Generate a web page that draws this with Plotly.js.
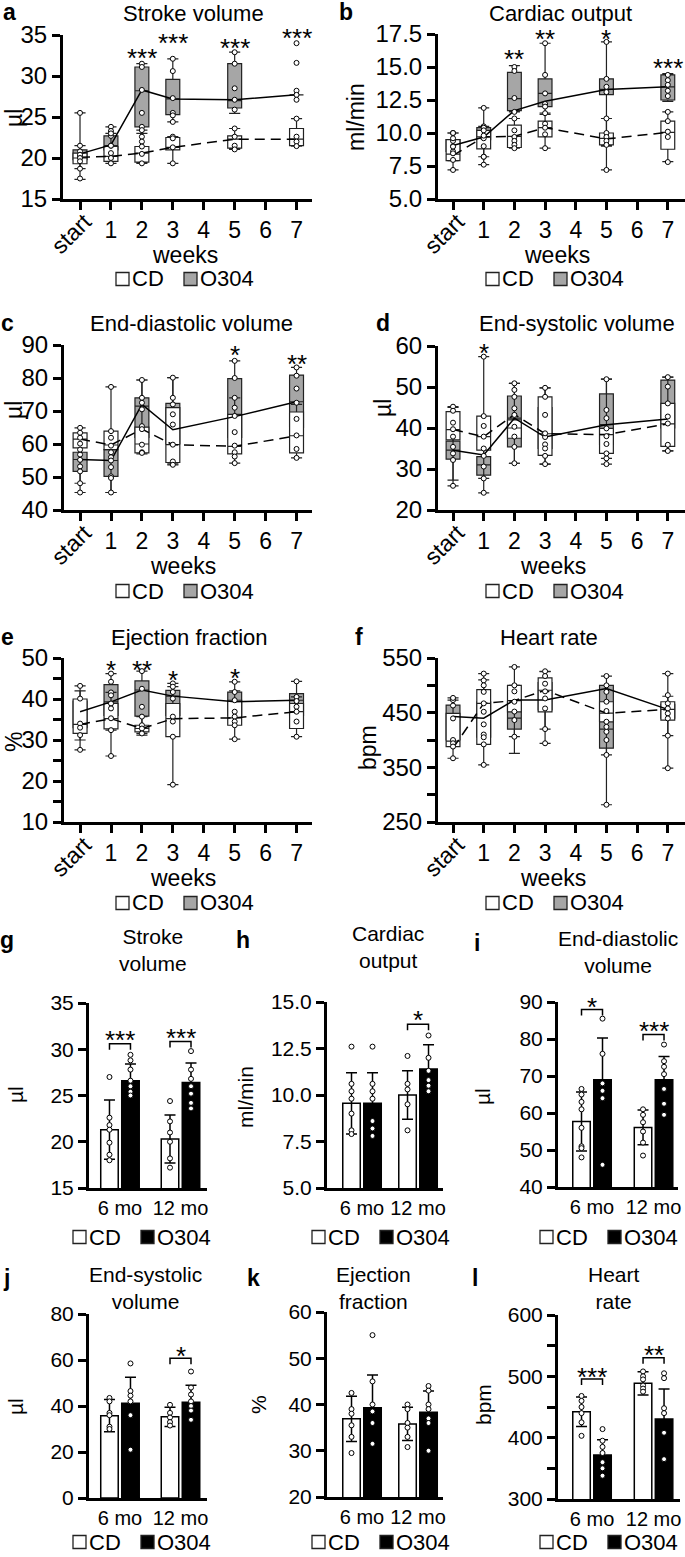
<!DOCTYPE html>
<html><head><meta charset="utf-8">
<script src="https://cdn.plot.ly/plotly-3.0.1.min.js"></script>
<style>html,body{margin:0;padding:0;background:#fff}#chart{width:685px;height:1557px}</style>
</head><body><div id="chart"></div>
<script>
// ---------- categories / labels ----------
const weeks = [0, 1, 2, 3, 5, 7];
const weekTicks = [0, 1, 2, 3, 4, 5, 6, 7];
const weekLabels = ['start', '1', '2', '3', '4', '5', '6', '7'];
const groupNames = ['CD', 'O304'];
const ages = ['6 mo', '12 mo'];
const ageTicks = [0, 1];
const letters = ['a','b','c','d','e','f','g','h','i','j','k','l'];
const topTitles = ['Stroke volume', 'Cardiac output', 'End-diastolic volume', 'End-systolic volume', 'Ejection fraction', 'Heart rate'];
const units = ['µl', 'ml/min', 'µl', 'µl', '%', 'bpm'];
const bottomTitles = [['Stroke', 'volume'], ['Cardiac', 'output'], ['End-diastolic', 'volume'], ['End-systolic', 'volume'], ['Ejection', 'fraction'], ['Heart', 'rate']];
const xTitle = 'weeks';

// ---------- a: stroke volume (rows: lower whisker, Q1, median, Q3, upper whisker) ----------
const sv_cd_box = [[17.4, 19.35, 19.35, 19.35, 21.05, 21.45], [19.3, 19.6, 19.5, 21.0, 21.2, 21.5], [20.0, 20.2, 20.6, 21.3, 22.3, 22.3], [20.6, 21.4, 21.4, 22.5, 22.7, 23.6], [25.5, 23.0, 23.0, 22.6, 23.6, 24.8]];
const sv_o_box = [[18.7, 19.8, 23.4, 24.4, 25.45, 26.9], [19.8, 21.0, 23.8, 25.3, 26.1, 27.8], [20.5, 21.5, 28.2, 27.2, 27.0, 27.7], [21.0, 22.7, 31.1, 29.6, 31.5, 32.2], [21.5, 23.8, 31.5, 32.1, 32.9, 34.0]];
const sv_cd_mean = [20.1, 20.2, 20.6, 21.3, 22.3, 22.3];
const sv_o_mean = [20.5, 21.6, 28.3, 27.2, 27.1, 27.7];
const sv_cd_pts = [[25.5, 20.4, 20.0, 19.6, 17.5], [23.0, 21.5, 20.6, 20.0, 19.35], [22.6, 22.0, 21.4, 20.5, 19.35], [22.6, 22.4, 21.3, 19.35], [23.6, 22.6, 21.5, 21.05], [24.8, 22.6, 22.0, 21.45]];
const sv_o_pts = [[21.5, 20.8, 20.2, 18.7], [23.8, 23.3, 22.7, 21.5], [31.5, 31.1, 28.3, 25.5, 23.8, 23.4], [32.1, 30.6, 27.3, 25.5, 25.2, 24.4], [32.9, 31.5, 28.5, 27.1, 25.9], [34.0, 31.6, 28.2, 27.7, 27.1]];
const sv_sig = ['', '', '***', '***', '***', '***'];
const sv_sigY = [0, 0, 32.9, 34.8, 34.2, 35.4];

// ---------- b: cardiac output ----------
const co_cd_box = [[7.2, 7.6, 8.85, 8.85, 9.0, 7.83], [7.9, 8.8, 8.9, 9.7, 9.1, 8.77], [8.4, 9.7, 9.75, 10.4, 9.6, 10.05], [9.5, 10.2, 10.6, 10.9, 10.0, 10.9], [10.0, 11.9, 11.1, 11.5, 11.1, 11.6]];
const co_o_box = [[7.9, 8.2, 11.6, 11.4, 7.2, 12.4], [8.6, 9.5, 11.7, 12.0, 12.9, 12.5], [9.05, 9.7, 12.6, 13.0, 13.3, 13.5], [9.5, 10.4, 14.6, 14.1, 14.1, 14.4], [10.0, 10.5, 15.1, 16.8, 16.9, 14.5]];
const co_cd_mean = [8.3, 9.7, 9.75, 10.4, 9.55, 10.05];
const co_o_mean = [9.05, 9.7, 11.7, 12.4, 13.3, 13.5];
const co_cd_pts = [[10.0, 9.6, 8.97, 8.46, 7.96, 7.2], [11.9, 10.2, 9.8, 9.0, 8.2, 7.6], [11.1, 10.2, 9.7, 9.4, 9.1, 8.85], [11.5, 10.7, 10.4, 9.9, 8.85], [11.1, 10.0, 9.7, 9.4, 9.1], [11.6, 10.9, 10.1, 9.7, 7.8]];
const co_o_pts = [[10.0, 9.4, 9.0, 8.6], [10.5, 10.4, 9.6, 8.2], [15.0, 14.7, 12.65, 11.6], [16.8, 14.4, 13.0, 12.2, 12.0], [16.9, 14.1, 13.5, 13.1, 7.2], [14.4, 14.0, 13.65, 13.2, 12.8]];
const co_sig = ['', '', '**', '**', '*', '***'];
const co_sigY = [0, 0, 16.05, 17.6, 17.6, 15.4];

// ---------- c: end-diastolic volume ----------
const edv_cd_box = [[48.1, 45.3, 57.3, 53.7, 54.2, 55.8], [58.8, 58.3, 57.3, 54.4, 57.0, 57.3], [61.5, 59.7, 60.0, 59.8, 59.3, 62.5], [63.4, 63.9, 65.1, 71.0, 69.0, 69.7], [64.9, 77.3, 79.4, 80.1, 74.0, 72.0]];
const edv_o_box = [[45.3, 45.3, 57.0, 54.0, 62.0, 70.0], [51.7, 50.2, 62.0, 60.0, 62.0, 65.0], [55.3, 55.0, 71.5, 64.3, 68.3, 72.8], [57.5, 58.3, 74.0, 72.3, 79.8, 80.9], [60.0, 63.0, 79.4, 80.1, 85.2, 83.2]];
const edv_cd_mean = [61.5, 59.7, 64.5, 59.8, 59.3, 62.5];
const edv_o_mean = [55.3, 55.0, 72.0, 64.3, 68.3, 72.8];
const edv_cd_pts = [[64.9, 63.4, 61.9, 60.1, 58.3, 48.1], [77.3, 63.9, 61.9, 59.5, 57.5], [65.4, 64.5, 59.8, 57.5, 57.3], [69.0, 65.9, 59.8, 54.7, 53.7], [68.5, 63.6, 59.5, 57.5, 56.2, 54.2], [67.6, 62.6, 58.5, 55.8]];
const edv_o_pts = [[56.8, 55.2, 53.2, 51.7, 45.3], [56.0, 55.0, 53.0, 50.2, 49.7, 45.3], [79.4, 74.0, 72.5, 70.5], [80.1, 74.0, 72.0], [85.2, 80.0, 74.0, 71.0], [83.2, 80.7, 76.8, 72.5]];
const edv_sig = ['', '', '', '', '*', '**'];
const edv_sigY = [0, 0, 0, 0, 88.8, 86.2];

// ---------- d: end-systolic volume ----------
const esv_cd_box = [[27.3, 27.7, 31.4, 31.2, 31.2, 34.4], [37.1, 34.6, 37.5, 33.3, 33.8, 35.5], [39.6, 37.9, 40.0, 38.6, 38.4, 41.0], [44.0, 42.9, 42.0, 47.6, 39.9, 46.0], [45.2, 57.4, 50.9, 49.8, 51.9, 52.4]];
const esv_o_box = [[25.9, 24.2, 31.4, 31.2, 32.6, 34.4], [32.4, 28.5, 35.4, 35.0, 36.0, 40.0], [34.6, 31.0, 42.4, 37.8, 40.8, 42.2], [36.8, 33.0, 47.8, 45.0, 48.3, 51.7], [45.0, 40.5, 50.9, 49.8, 51.9, 52.4]];
const esv_cd_mean = [39.6, 37.9, 43.3, 38.6, 38.4, 41.0];
const esv_o_mean = [34.6, 33.4, 42.4, 37.8, 40.8, 42.2];
const esv_cd_pts = [[45.2, 44.2, 41.3, 39.7, 37.9], [57.4, 42.9, 40.5, 37.9, 35.0], [44.8, 43.2, 40.3, 37.9], [49.8, 47.6, 43.2, 38.7, 35.0, 33.2, 31.2], [42.4, 39.9, 38.0, 36.1, 33.8, 31.2], [42.8, 41.1, 35.9, 34.4]];
const esv_o_pts = [[35.4, 33.8, 32.2, 25.9], [33.2, 30.6, 27.7, 24.2], [50.9, 49.3, 47.6, 35.4, 31.4], [37.8, 36.0], [51.9, 44.4, 32.6], [52.4, 50.1, 46.0]];
const esv_sig = ['', '*', '', '', '', ''];
const esv_sigY = [0, 59.8, 0, 0, 0, 0];

// ---------- e: ejection fraction ----------
const ef_cd_box = [[27.6, 26.1, 31.2, 19.1, 30.2, 30.8], [31.6, 32.7, 32.0, 30.8, 33.6, 32.8], [33.8, 35.2, 32.8, 35.2, 35.4, 36.9], [40.0, 38.9, 33.6, 38.9, 39.7, 38.9], [43.2, 41.6, 35.7, 43.0, 42.0, 40.5]];
const ef_o_box = [[30.0, 32.4, 31.6, 34.5, 34.0, 34.5], [33.0, 36.0, 35.8, 36.0, 36.0, 36.0], [37.0, 39.3, 42.2, 40.7, 39.3, 39.7], [39.5, 43.5, 44.4, 42.1, 41.7, 41.3], [42.0, 46.2, 46.8, 43.8, 44.2, 44.3]];
const ef_cd_mean = [33.8, 35.2, 32.8, 35.2, 35.4, 36.9];
const ef_o_mean = [36.9, 39.3, 42.2, 40.7, 39.3, 39.7];
const ef_cd_pts = [[43.2, 40.1, 34.0, 33.0, 31.2, 27.6], [38.9, 37.7, 35.3, 32.4, 26.1], [33.6, 32.8, 31.6], [35.7, 34.5, 30.8, 19.1], [39.7, 36.9, 35.7, 34.5, 33.6, 30.2], [38.1, 36.9, 34.5, 30.8]];
const ef_o_pts = [[], [46.2, 44.2, 41.6, 40.9], [46.8, 42.5, 38.1, 35.7], [43.8, 43.0, 41.7, 40.1], [44.2, 41.7], [44.3, 40.5, 39.5]];
const ef_sig = ['', '*', '**', '*', '*', ''];
const ef_sigY = [0, 48.6, 48.6, 46.0, 46.6, 0];

// ---------- f: heart rate ----------
const hr_cd_box = [[366.6, 354.5, 375.7, 394, 372.7, 348.4], [388, 392, 451.6, 451.6, 433, 436.5], [398, 467, 472, 491, 449, 456], [448.6, 492, 500, 513.6, 470, 470], [477, 521.5, 533.6, 525.7, 517, 521.5]];
const hr_o_box = [[394, 400, 406, 420, 281.6, 408], [400, 405, 420, 455, 385, 440], [440, 440, 440, 473, 420, 456], [463.8, 470, 470, 505, 500, 465], [473, 510, 500, 525, 500, 480]];
const hr_cd_mean = [385, 467, 472, 491, 449, 456];
const hr_o_mean = [443, 440, 473, 473, 494, 456];
const hr_cd_pts = [[477, 439.5, 400, 394, 388, 366.6], [521.5, 509, 500, 488, 467, 451.6, 428.6, 392, 354.5], [533.6, 500, 489, 470, 452], [525.7, 517, 503, 489, 476, 457.7, 394], [517, 488, 470, 453, 433.4, 424, 372.7], [521.5, 482, 467, 457.7, 448.6, 439.5, 348.4]];
const hr_o_pts = [[473, 463], [410, 405], [436.5, 406], [420], [500, 415, 400, 281.6], [408]];
const hr_sig = ['', '', '', '', '', ''];
const hr_sigY = [0, 0, 0, 0, 0, 0];

// ---------- g-l: 6 and 12 months (mean, SD, individual animals) ----------
const g_cd_mean = [21.3, 20.3], g_cd_sd = [3.2, 2.6], g_o_mean = [26.6, 26.4], g_o_sd = [1.8, 2.1];
const g_cd_pts = [[27.0, 22.6, 21.8, 21.3, 19.9, 18.6, 18.0], [24.4, 22.2, 21.0, 20.0, 18.2, 17.2]];
const g_o_pts = [[29.4, 28.8, 27.8, 26.6, 26.0, 25.4, 25.0], [29.8, 27.8, 26.8, 26.0, 25.2, 24.2, 23.6]];
const g_sig = ['***', '***'], g_brY = [30.6, 30.85], g_sigY = [31.6, 31.9];

const h_cd_mean = [9.55, 10.0], h_cd_sd = [1.65, 1.3], h_o_mean = [9.55, 11.4], h_o_sd = [1.65, 1.3];
const h_cd_pts = [[12.6, 10.6, 10.2, 9.8, 9.0, 8.1, 7.9], [12.1, 10.6, 10.3, 9.5, 8.1]];
const h_o_pts = [[12.6, 10.6, 10.2, 9.8, 8.6, 8.2, 7.8], [13.2, 12.0, 11.3, 10.8, 10.5, 10.2]];
const h_sig = ['', '*'], h_brY = [0, 13.8], h_sigY = [0, 14.35];

const i_cd_mean = [57.7, 56.1], i_cd_sd = [8.0, 4.7], i_o_mean = [69.0, 69.0], i_o_sd = [11.3, 6.3];
const i_cd_pts = [[66.5, 65.0, 63.0, 61.0, 56.0, 51.0, 50.5, 48.0], [61.0, 59.5, 57.5, 55.0, 52.0, 48.5]];
const i_o_pts = [[85.5, 76.0, 68.0, 66.0, 64.0, 46.0], [78.5, 74.0, 72.5, 70.5, 66.5, 62.5, 59.5]];
const i_sig = ['*', '***'], i_brY = [88.0, 81.2], i_sigY = [90.4, 83.7];

const j_cd_mean = [35.8, 35.3], j_cd_sd = [7.0, 4.2], j_o_mean = [41.2, 41.6], j_o_sd = [11.3, 7.4];
const j_cd_pts = [[43.5, 42.0, 37.0, 36.0, 31.0, 30.0], [40.5, 37.0, 35.0, 33.0, 31.5]];
const j_o_pts = [[58.5, 46.5, 44.5, 42.0, 36.0, 21.0], [55.0, 48.0, 45.0, 42.0, 40.0, 38.0, 34.0]];
const j_sig = ['', '*'], j_brY = [0, 60.8], j_sigY = [0, 64.4];

const k_cd_mean = [36.9, 35.8], k_cd_sd = [4.9, 3.6], k_o_mean = [39.3, 38.3], k_o_sd = [7.1, 4.6];
const k_cd_pts = [[42.5, 39.0, 38.0, 35.5, 33.0, 29.5], [40.0, 39.0, 36.0, 35.0, 33.0, 30.8]];
const k_o_pts = [[55.0, 45.0, 40.0, 38.5, 36.0, 31.5], [44.0, 43.0, 40.0, 39.0, 37.0, 36.0, 30.0]];
const k_sig = ['', ''], k_brY = [0, 0], k_sigY = [0, 0];

const l_cd_mean = [442.4, 488.6], l_cd_sd = [24, 19], l_o_mean = [371.7, 430.4], l_o_sd = [25, 49];
const l_cd_pts = [[468, 460, 450, 440, 425, 403], [508, 500, 495, 485, 480, 475]];
const l_o_pts = [[414, 395, 385, 375, 360, 350, 338], [505, 497, 448, 440, 408, 365]];
const l_sig = ['***', '**'], l_brY = [495.6, 530.4], l_sigY = [508.7, 544];

// ---------- layout geometry (pixels) ----------
const W = 685, H = 1557;
const X = px => px / W;
const Y = px => 1 - px / H;
const FONT = '"Liberation Sans", Arial, Helvetica, sans-serif';
const GRAY = '#a6a6a6';

const topGeom = [
  {x0: 63, x1: 312, y0: 35, y1: 199, yr: [15, 35], dt: 5, xr: [-0.55, 7.5]},
  {x0: 438, x1: 685, y0: 34, y1: 199, yr: [5, 17.5], dt: 2.5, fmt: '.1f', xr: [-0.49, 7.56]},
  {x0: 64, x1: 312, y0: 345, y1: 510, yr: [40, 90], dt: 10, xr: [-0.52, 7.5]},
  {x0: 438, x1: 685, y0: 346, y1: 510, yr: [20, 60], dt: 10, xr: [-0.49, 7.56]},
  {x0: 64, x1: 312, y0: 658, y1: 822, yr: [10, 50], dt: 10, minor: 5, xr: [-0.52, 7.5]},
  {x0: 438, x1: 685, y0: 658, y1: 822, yr: [250, 550], dt: 100, minor: 50, xr: [-0.49, 7.56]}
];
const botGeom = [
  {x0: 89, x1: 207, y0: 1003, y1: 1188, yr: [15, 35], dt: 5, xr: [-0.512, 1.438]},
  {x0: 327, x1: 443, y0: 1002, y1: 1188, yr: [5, 15], dt: 2.5, fmt: '.1f', xr: [-0.625, 1.446]},
  {x0: 558, x1: 678, y0: 1002, y1: 1187, yr: [40, 90], dt: 10, xr: [-0.553, 1.398]},
  {x0: 89, x1: 207, y0: 1314, y1: 1498, yr: [0, 80], dt: 20, xr: [-0.512, 1.438]},
  {x0: 327, x1: 443, y0: 1312, y1: 1497, yr: [20, 60], dt: 10, xr: [-0.625, 1.446]},
  {x0: 558, x1: 680, y0: 1315, y1: 1499, yr: [300, 600], dt: 100, minor: 50, xr: [-0.553, 1.43]}
];
const topLetterPos = [[9, 12], [346, 12], [7, 323], [383, 323], [7, 637], [359, 637]];
const topTitlePos = [[193, 13], [560, 13], [191, 323], [577, 323], [189, 637], [549, 637]];
const topUnitPos = [[14, 118], [356, 117], [14, 410], [383, 408], [14, 742], [368, 748]];
const weeksPos = [[185, 255], [557, 255], [183, 566], [553, 566], [183, 878], [553, 878]];
const legendPos = [[187, 279], [557, 279], [187, 591], [557, 591], [187, 903], [557, 903], [144, 1237], [383, 1237], [611, 1237], [144, 1542], [383, 1542], [611, 1542]];
const botLetterPos = [[7, 940], [243, 940], [477, 943], [6, 1278], [253, 1278], [475, 1278]];
const botTitlePos = [[153, 950], [388, 947], [618, 952], [145, 1288], [373, 1288], [614, 1288]];
const botUnitPos = [[15, 1095], [245, 1097], [482, 1097], [15, 1407], [258, 1405], [483, 1405]];

const boxPanels = [
  [sv_cd_box, sv_o_box, sv_cd_mean, sv_o_mean, sv_cd_pts, sv_o_pts, sv_sig, sv_sigY],
  [co_cd_box, co_o_box, co_cd_mean, co_o_mean, co_cd_pts, co_o_pts, co_sig, co_sigY],
  [edv_cd_box, edv_o_box, edv_cd_mean, edv_o_mean, edv_cd_pts, edv_o_pts, edv_sig, edv_sigY],
  [esv_cd_box, esv_o_box, esv_cd_mean, esv_o_mean, esv_cd_pts, esv_o_pts, esv_sig, esv_sigY],
  [ef_cd_box, ef_o_box, ef_cd_mean, ef_o_mean, ef_cd_pts, ef_o_pts, ef_sig, ef_sigY],
  [hr_cd_box, hr_o_box, hr_cd_mean, hr_o_mean, hr_cd_pts, hr_o_pts, hr_sig, hr_sigY]
];
const barPanels = [
  [g_cd_mean, g_cd_sd, g_o_mean, g_o_sd, g_cd_pts, g_o_pts, g_sig, g_brY, g_sigY],
  [h_cd_mean, h_cd_sd, h_o_mean, h_o_sd, h_cd_pts, h_o_pts, h_sig, h_brY, h_sigY],
  [i_cd_mean, i_cd_sd, i_o_mean, i_o_sd, i_cd_pts, i_o_pts, i_sig, i_brY, i_sigY],
  [j_cd_mean, j_cd_sd, j_o_mean, j_o_sd, j_cd_pts, j_o_pts, j_sig, j_brY, j_sigY],
  [k_cd_mean, k_cd_sd, k_o_mean, k_o_sd, k_cd_pts, k_o_pts, k_sig, k_brY, k_sigY],
  [l_cd_mean, l_cd_sd, l_o_mean, l_o_sd, l_cd_pts, l_o_pts, l_sig, l_brY, l_sigY]
];

const traces = [];
const annotations = [];
const shapes = [];
const layout = {
  width: W, height: H, margin: {l: 0, r: 0, t: 0, b: 0},
  paper_bgcolor: 'white', plot_bgcolor: 'white',
  font: {family: FONT, color: 'black', size: 22},
  boxmode: 'overlay', barmode: 'overlay', showlegend: false,
  annotations: annotations, shapes: shapes
};

function ids(n) { return n === 1 ? ['x', 'y'] : ['x' + n, 'y' + n]; }
function axKey(id) { return id.replace('x', 'xaxis').replace('y', 'yaxis'); }
function ann(o) { annotations.push(Object.assign({showarrow: false, xanchor: 'center', yanchor: 'middle', font: {family: FONT, size: 22, color: 'black'}}, o)); }
function fnt(s) { return {family: FONT, size: s, color: 'black'}; }
function baseAxis() {
  return {showline: true, linewidth: 3, linecolor: 'black', ticks: 'outside', ticklen: 8, tickwidth: 3,
          tickcolor: 'black', showgrid: false, zeroline: false, fixedrange: true};
}
function yAxis(g, xid, fs) {
  const a = Object.assign(baseAxis(), {domain: [Y(g.y1), Y(g.y0)], range: g.yr, tick0: g.yr[0], dtick: g.dt,
    anchor: xid, tickfont: fnt(fs)});
  if (g.fmt) a.tickformat = g.fmt;
  if (g.minor) a.minor = {dtick: g.minor, tick0: g.yr[0], ticks: 'outside', ticklen: 8, tickwidth: 3, tickcolor: 'black', showgrid: false};
  return a;
}
// value -> paper y (so labels above the axis range still show)
function vy(g, v) { return Y(g.y1 - (v - g.yr[0]) / (g.yr[1] - g.yr[0]) * (g.y1 - g.y0)); }
// legend: CD (white square) and O304 (filled square), drawn as keys in paper space
function legendKey(pos, oFill) {
  const [cx, cy] = pos;
  [[-71, 'white', groupNames[0]], [-3, oFill, groupNames[1]]].forEach(([dx, fill, label]) => {
    shapes.push({type: 'rect', xref: 'paper', yref: 'paper', x0: X(cx + dx), x1: X(cx + dx + 13),
      y0: Y(cy + 6.5), y1: Y(cy - 6.5), fillcolor: fill, line: {color: '#222', width: 1.3}});
    ann({xref: 'paper', yref: 'paper', x: X(cx + dx + 14), y: Y(cy), xanchor: 'left', text: label, font: fnt(22)});
  });
}
function flatten(xs, pts) {
  const x = [], y = [];
  pts.forEach((arr, i) => arr.forEach(v => { x.push(xs[i]); y.push(v); }));
  return {x, y};
}
const ptMarker = {size: 5, color: 'white', line: {color: 'black', width: 1}};

// ---------- a-f: box plots over weeks ----------
boxPanels.forEach((p, k) => {
  const [cdBox, oBox, cdMean, oMean, cdPts, oPts, sig, sigY] = p;
  const n = k + 1, g = topGeom[k];
  const [xid, yid] = ids(n);
  layout[axKey(xid)] = Object.assign(baseAxis(), {domain: [X(g.x0), X(g.x1)], range: g.xr, anchor: yid,
    tickmode: 'array', tickvals: weekTicks, ticktext: weekLabels.map((t, i) => i === 0 ? '' : t),
    tickfont: fnt(23)});
  layout[axKey(yid)] = yAxis(g, xid, 24);
  const boxStyle = {type: 'box', x: weeks, xaxis: xid, yaxis: yid, width: 0.45, whiskerwidth: 0.8,
    boxpoints: false, hoverinfo: 'skip'};
  traces.push(Object.assign({}, boxStyle, {name: groupNames[1],
    lowerfence: oBox[0], q1: oBox[1], median: oBox[2], q3: oBox[3], upperfence: oBox[4],
    fillcolor: GRAY, line: {color: '#222', width: 1.2}}));
  traces.push(Object.assign({}, boxStyle, {name: groupNames[0],
    lowerfence: cdBox[0], q1: cdBox[1], median: cdBox[2], q3: cdBox[3], upperfence: cdBox[4],
    fillcolor: 'white', line: {color: '#222', width: 1.2}}));
  traces.push({type: 'scatter', mode: 'lines', x: weeks, y: cdMean, xaxis: xid, yaxis: yid,
    line: {color: 'black', width: 1.5, dash: '10px,6px'}, hoverinfo: 'skip'});
  traces.push({type: 'scatter', mode: 'lines', x: weeks, y: oMean, xaxis: xid, yaxis: yid,
    line: {color: 'black', width: 1.5}, hoverinfo: 'skip'});
  [oPts, cdPts].forEach(pts => {
    const f = flatten(weeks, pts);
    traces.push({type: 'scatter', mode: 'markers', x: f.x, y: f.y, xaxis: xid, yaxis: yid,
      marker: ptMarker, hoverinfo: 'skip', cliponaxis: false});
  });
  legendKey(legendPos[k], GRAY);
  ann({xref: 'paper', yref: 'paper', x: X(topLetterPos[k][0]), y: Y(topLetterPos[k][1]), text: '<b>' + letters[k] + '</b>', font: fnt(23)});
  ann({xref: 'paper', yref: 'paper', x: X(topTitlePos[k][0]), y: Y(topTitlePos[k][1]), text: topTitles[k]});
  ann({xref: 'paper', yref: 'paper', x: X(topUnitPos[k][0]), y: Y(topUnitPos[k][1]), text: units[k], textangle: -90, font: fnt(23)});
  ann({xref: 'paper', yref: 'paper', x: X(weeksPos[k][0]), y: Y(weeksPos[k][1]), text: xTitle, font: fnt(23)});
  ann({xref: xid, yref: 'paper', x: weekTicks[0], xshift: -9, y: Y(g.y1 + 35), text: weekLabels[0], textangle: -45, font: fnt(23)});
  sig.forEach((s, i) => {
    if (s) ann({xref: xid, yref: 'paper', x: weeks[i], y: vy(g, sigY[i]), yshift: -6, text: s, font: fnt(26)});
  });
});

// ---------- g-l: bar charts at 6 and 12 months ----------
barPanels.forEach((p, k) => {
  const [cdM, cdSD, oM, oSD, cdPts, oPts, sig, brY, sigY] = p;
  const n = k + 7, g = botGeom[k];
  const [xid, yid] = ids(n);
  const ppu = (g.x1 - g.x0) / (g.xr[1] - g.xr[0]);
  const off = 10.5 / ppu, bw = 17.5 / ppu;
  const xCD = ageTicks.map(v => v - off), xO = ageTicks.map(v => v + off);
  layout[axKey(xid)] = Object.assign(baseAxis(), {domain: [X(g.x0), X(g.x1)], range: g.xr, anchor: yid, ticks: '',
    tickmode: 'array', tickvals: ageTicks, ticktext: ages, tickfont: fnt(20)});
  layout[axKey(yid)] = yAxis(g, xid, 21);
  const err = sd => ({type: 'data', array: sd, visible: true, color: 'black', thickness: 1.5, width: 5.5});
  traces.push({type: 'bar', name: groupNames[0], x: xCD, y: cdM, width: bw, xaxis: xid, yaxis: yid, error_y: err(cdSD),
    marker: {color: 'white', line: {color: 'black', width: 1.5}}, hoverinfo: 'skip'});
  traces.push({type: 'bar', name: groupNames[1], x: xO, y: oM, width: bw, xaxis: xid, yaxis: yid, error_y: err(oSD),
    marker: {color: 'black', line: {color: 'black', width: 1.5}}, hoverinfo: 'skip'});
  [[xCD, cdPts], [xO, oPts]].forEach(([xs, pts]) => {
    const f = flatten(xs, pts);
    traces.push({type: 'scatter', mode: 'markers', x: f.x, y: f.y, xaxis: xid, yaxis: yid,
      marker: ptMarker, hoverinfo: 'skip', cliponaxis: false});
  });
  legendKey(legendPos[n - 1], 'black');
  const leg = (g.yr[1] - g.yr[0]) * 6 / (g.y1 - g.y0);
  sig.forEach((s, i) => {
    if (!s) return;
    shapes.push({type: 'path', xref: xid, yref: yid, line: {color: 'black', width: 1.5},
      path: `M${xCD[i]},${brY[i] - leg} L${xCD[i]},${brY[i]} L${xO[i]},${brY[i]} L${xO[i]},${brY[i] - leg}`});
    ann({xref: xid, yref: 'paper', x: ageTicks[i], y: vy(g, sigY[i]), yshift: -6, text: s, font: fnt(26)});
  });
  ann({xref: 'paper', yref: 'paper', x: X(botLetterPos[k][0]), y: Y(botLetterPos[k][1]), text: '<b>' + letters[n - 1] + '</b>', font: fnt(23)});
  ann({xref: 'paper', yref: 'paper', x: X(botTitlePos[k][0]), y: Y(botTitlePos[k][1]), text: bottomTitles[k].join('<br>'), font: fnt(21)});
  ann({xref: 'paper', yref: 'paper', x: X(botUnitPos[k][0]), y: Y(botUnitPos[k][1]), text: units[k], textangle: -90, font: fnt(21)});
});

Plotly.newPlot('chart', traces, layout, {staticPlot: true, displayModeBar: false});
</script>
</body></html>
